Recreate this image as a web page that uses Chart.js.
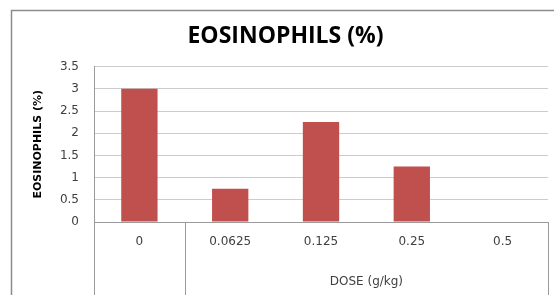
<!DOCTYPE html>
<html>
<head>
<meta charset="utf-8">
<script src="https://cdn.jsdelivr.net/npm/chart.js@4/dist/chart.umd.min.js"></script>
<style>
  html, body { margin: 0; padding: 0; background: #fff; }
  #wrap { position: relative; width: 554px; height: 295px; }
</style>
</head>
<body>
<div id="wrap"><canvas id="c" width="554" height="295"></canvas></div>
<script>
const categories = ['0', '0.0625', '0.125', '0.25', '0.5'];
const eosinophils = [3, 0.75, 2.25, 1.25, 0];
const chartTitle = 'EOSINOPHILS (%)';
const yTitle = 'EOSINOPHILS (%)';
const groupLabels = ['', 'DOSE (g/kg)'];
const groupSpans = [[0, 0], [1, 4]];

const lineColor = '#9a9a9a';

const extras = {
  id: 'extras',
  beforeDraw(chart) {
    const ctx = chart.ctx;
    ctx.save();
    ctx.fillStyle = '#fff';
    ctx.fillRect(0, 0, chart.width, chart.height);
    ctx.strokeStyle = '#8c8c8c';
    ctx.lineWidth = 1.5;
    ctx.strokeRect(11.5, 10.5, chart.width + 50, chart.height + 50);
    ctx.restore();
  },
  afterDraw(chart) {
    const ctx = chart.ctx;
    const x = chart.scales.x;
    const a = chart.chartArea;
    const half = (x.getPixelForValue(1) - x.getPixelForValue(0)) / 2;
    ctx.save();
    ctx.strokeStyle = lineColor;
    ctx.lineWidth = 1;
    const edges = [a.left];
    groupSpans.forEach(s => edges.push(x.getPixelForValue(s[1]) + half));
    edges.forEach(px => {
      const xx = Math.round(px) + 0.5;
      ctx.beginPath();
      ctx.moveTo(xx, a.bottom);
      ctx.lineTo(xx, chart.height);
      ctx.stroke();
    });
    ctx.fillStyle = '#404040';
    ctx.font = '12px "DejaVu Sans"';
    ctx.textAlign = 'center';
    ctx.textBaseline = 'middle';
    groupSpans.forEach((s, i) => {
      if (!groupLabels[i]) return;
      const cx = (x.getPixelForValue(s[0]) - half + x.getPixelForValue(s[1]) + half) / 2;
      ctx.fillText(groupLabels[i], cx, a.bottom + 60);
    });
    ctx.restore();
  }
};

new Chart(document.getElementById('c'), {
  type: 'bar',
  data: {
    labels: categories,
    datasets: [{
      data: eosinophils,
      backgroundColor: '#C0504D',
      borderWidth: 0,
      barPercentage: 0.4,
      categoryPercentage: 1.0
    }]
  },
  options: {
    responsive: false,
    animation: false,
    devicePixelRatio: 1,
    layout: { padding: { left: 23, right: 6, top: 0, bottom: 0 } },
    plugins: {
      legend: { display: false },
      tooltip: { enabled: false },
      title: {
        display: true,
        text: chartTitle,
        color: '#000',
        font: { family: '"Open Sans"', size: 23, weight: 'bold' },
        padding: { top: 23, bottom: 16 }
      }
    },
    scales: {
      x: {
        grid: { display: false, drawTicks: false },
        border: { display: true, color: lineColor, width: 1 },
        ticks: {
          color: '#404040',
          font: { family: '"DejaVu Sans"', size: 12 },
          padding: 13,
          maxRotation: 0,
          autoSkip: false
        },
        afterFit(scale) { scale.height = 73; }
      },
      y: {
        min: 0,
        max: 3.5,
        ticks: {
          stepSize: 0.5,
          color: '#404040',
          font: { family: '"DejaVu Sans"', size: 12 },
          padding: 15,
          callback: (v) => String(v)
        },
        grid: { color: '#cccccc', drawTicks: false },
        border: { display: true, color: lineColor, width: 1 },
        title: {
          display: true,
          text: yTitle,
          color: '#000',
          font: { family: '"DejaVu Sans"', size: 11, weight: 'bold' },
          padding: { top: 9, bottom: 0 }
        },
        afterFit(scale) { scale.width = 71; }
      }
    }
  },
  plugins: [extras]
});
</script>
</body>
</html>
